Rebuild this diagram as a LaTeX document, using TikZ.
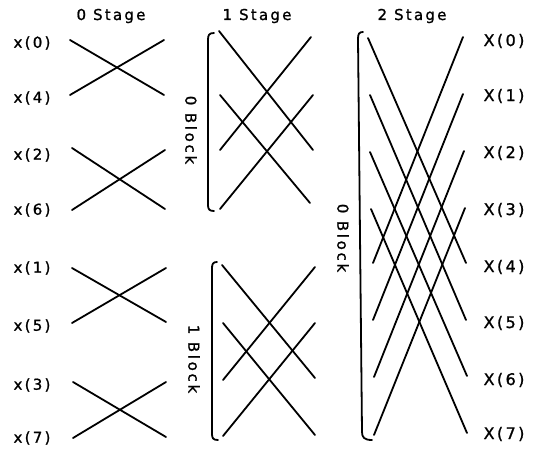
\documentclass[tikz,border=0pt]{standalone}
\usepackage{fontspec}
\setmainfont{DejaVu Sans}
\newfontfamily\lab[LetterSpace=15,FakeBold=1.2]{DejaVu Sans}
\newfontfamily\blab[LetterSpace=18,FakeBold=1.2]{DejaVu Sans}
\begin{document}
\begin{tikzpicture}[x=1pt,y=-1pt,
  wire/.style={line width=1.8pt, line cap=round},
  brk/.style={line width=1.8pt, line cap=round, line join=round},
  inlab/.style={font=\lab\fontsize{15}{17}\selectfont, inner sep=0pt},
  outlab/.style={font=\lab\fontsize{16}{18}\selectfont, inner sep=0pt},
  stagelab/.style={font=\lab\fontsize{15}{17}\selectfont, inner sep=0pt, anchor=base},
  blocklab/.style={font=\blab\fontsize{15}{17}\selectfont, inner sep=0pt, rotate=-90}]
\useasboundingbox (0,0) rectangle (534,449);

% titles
\node[stagelab] (t0) at (111,20) {0 Stage};
\node[stagelab] (t1) at (257,20) {1 Stage};
\node[stagelab] (t2) at (412,20) {2 Stage};

% input labels
\node[inlab] (i0) at (32,43) {x(0)};
\node[inlab] (i4) at (32,98) {x(4)};
\node[inlab] (i2) at (32,155) {x(2)};
\node[inlab] (i6) at (32,210) {x(6)};
\node[inlab] (i1) at (32,268) {x(1)};
\node[inlab] (i5) at (32,326) {x(5)};
\node[inlab] (i3) at (32,385) {x(3)};
\node[inlab] (i7) at (32,438) {x(7)};

% output labels
\node[outlab] (o0) at (504,41) {X(0)};
\node[outlab] (o1) at (504,96) {X(1)};
\node[outlab] (o2) at (504,153) {X(2)};
\node[outlab] (o3) at (504,210) {X(3)};
\node[outlab] (o4) at (504,267) {X(4)};
\node[outlab] (o5) at (504,323) {X(5)};
\node[outlab] (o6) at (504,380) {X(6)};
\node[outlab] (o7) at (504,434) {X(7)};

% block labels
\node[blocklab] (b00) at (191,130) {0 Block};
\node[blocklab] (b01) at (194,359) {1 Block};
\node[blocklab] (b20) at (343,238) {0 Block};

% stage 0 coordinates
\coordinate (aL0) at (70,40);  \coordinate (aR0) at (164,40);
\coordinate (aL1) at (70,95);  \coordinate (aR1) at (164,95);
\coordinate (aL2) at (72,148); \coordinate (aR2) at (165,150);
\coordinate (aL3) at (72,210); \coordinate (aR3) at (165,209);
\coordinate (aL4) at (72,268); \coordinate (aR4) at (166,268);
\coordinate (aL5) at (72,323); \coordinate (aR5) at (166,322);
\coordinate (aL6) at (73,382); \coordinate (aR6) at (166,382);
\coordinate (aL7) at (73,438); \coordinate (aR7) at (166,437);
\draw[wire] (aL0) -- (aR1); \draw[wire] (aL1) -- (aR0);
\draw[wire] (aL2) -- (aR3); \draw[wire] (aL3) -- (aR2);
\draw[wire] (aL4) -- (aR5); \draw[wire] (aL5) -- (aR4);
\draw[wire] (aL6) -- (aR7); \draw[wire] (aL7) -- (aR6);

% stage 1 coordinates
\coordinate (bL0) at (219,31);  \coordinate (bR0) at (311,37);
\coordinate (bL1) at (220,95);  \coordinate (bR1) at (313,95);
\coordinate (bL2) at (220,150); \coordinate (bR2) at (313,150);
\coordinate (bL3) at (220,209); \coordinate (bR3) at (310,203);
\coordinate (bL4) at (222,265); \coordinate (bR4) at (315,267);
\coordinate (bL5) at (223,323); \coordinate (bR5) at (315,323);
\coordinate (bL6) at (223,380); \coordinate (bR6) at (315,378);
\coordinate (bL7) at (223,436); \coordinate (bR7) at (315,435);
\draw[wire] (bL0) -- (bR2); \draw[wire] (bL2) -- (bR0);
\draw[wire] (bL1) -- (bR3); \draw[wire] (bL3) -- (bR1);
\draw[wire] (bL4) -- (bR6); \draw[wire] (bL6) -- (bR4);
\draw[wire] (bL5) -- (bR7); \draw[wire] (bL7) -- (bR5);

% stage 2 coordinates
\coordinate (cL0) at (368,38);  \coordinate (cR0) at (463,37);
\coordinate (cL1) at (370,95);  \coordinate (cR1) at (463,94);
\coordinate (cL2) at (370,152); \coordinate (cR2) at (464,151);
\coordinate (cL3) at (371,209); \coordinate (cR3) at (465,208);
\coordinate (cL4) at (373,263); \coordinate (cR4) at (466,263);
\coordinate (cL5) at (373,320); \coordinate (cR5) at (466,320);
\coordinate (cL6) at (374,377); \coordinate (cR6) at (467,376);
\coordinate (cL7) at (374,435); \coordinate (cR7) at (467,433);
\draw[wire] (cL0) -- (cR4); \draw[wire] (cL4) -- (cR0);
\draw[wire] (cL1) -- (cR5); \draw[wire] (cL5) -- (cR1);
\draw[wire] (cL2) -- (cR6); \draw[wire] (cL6) -- (cR2);
\draw[wire] (cL3) -- (cR7); \draw[wire] (cL7) -- (cR3);

% brackets
\draw[brk] (214,33) .. controls (209,33) and (208,35) .. (208,40) -- (208,205) .. controls (208,209) and (209,211) .. (214,211);
\draw[brk] (217,262) .. controls (213,262) and (212,264) .. (212,268) -- (212,434) .. controls (212,438) and (213,440) .. (218,440);
\draw[brk] (363,32) .. controls (359,32) and (358,34) .. (358,39) -- (362,432) .. controls (362,437) and (364,440) .. (372,440);
\end{tikzpicture}
\end{document}
